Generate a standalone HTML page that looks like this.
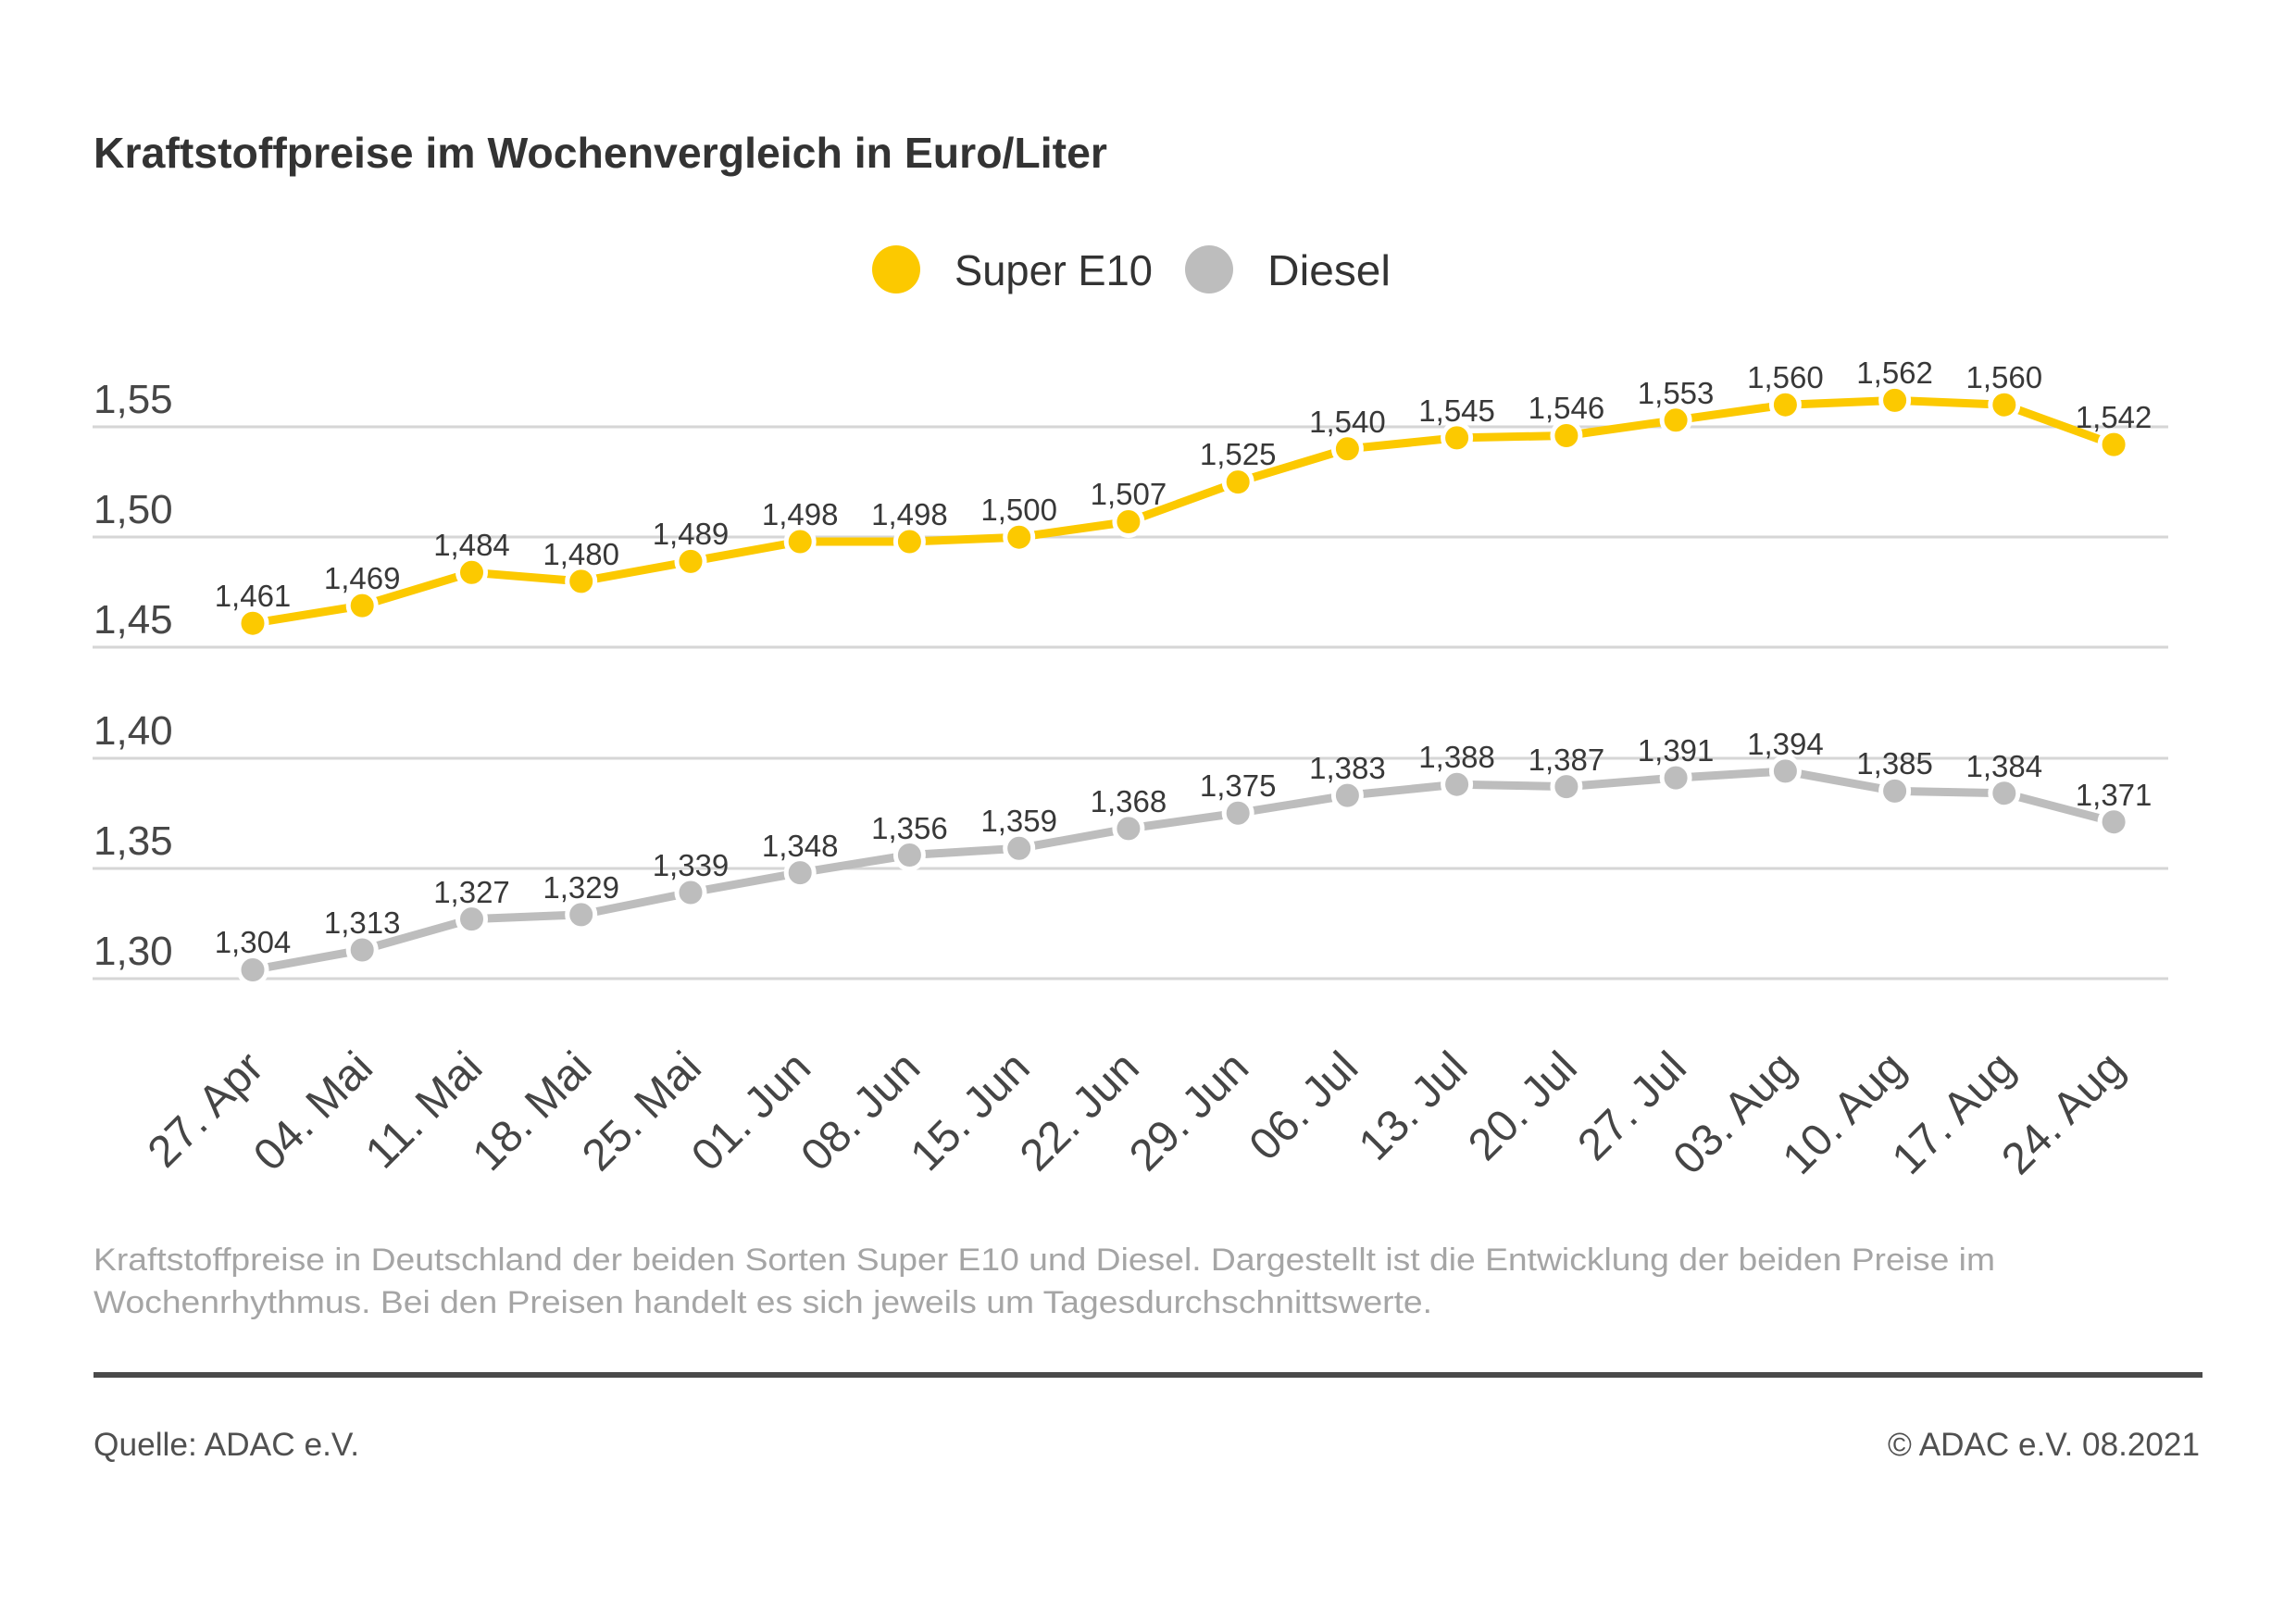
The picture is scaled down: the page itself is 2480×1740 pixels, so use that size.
<!DOCTYPE html>
<html>
<head>
<meta charset="utf-8">
<style>
html,body{margin:0;padding:0;background:#fff;}
svg{display:block;}
text{font-family:"Liberation Sans",sans-serif;}
</style>
</head>
<body>
<svg width="2480" height="1740" viewBox="0 0 2480 1740" xmlns="http://www.w3.org/2000/svg">
<rect width="2480" height="1740" fill="#fff"/>

<!-- Title -->
<text x="101" y="181" font-size="46" font-weight="bold" fill="#333" textLength="1095" lengthAdjust="spacingAndGlyphs">Kraftstoffpreise im Wochenvergleich in Euro/Liter</text>

<!-- Legend -->
<circle cx="968" cy="291" r="26" fill="#fcc900"/>
<text x="1031" y="308" font-size="46" fill="#333" textLength="214" lengthAdjust="spacingAndGlyphs">Super E10</text>
<circle cx="1306" cy="291" r="26" fill="#bdbdbd"/>
<text x="1369" y="308" font-size="46" fill="#333" textLength="133" lengthAdjust="spacingAndGlyphs">Diesel</text>

<!-- Grid lines -->
<g stroke="#d6d6d6" stroke-width="3">
<line x1="100" y1="461" x2="2342" y2="461"/>
<line x1="100" y1="580" x2="2342" y2="580"/>
<line x1="100" y1="699" x2="2342" y2="699"/>
<line x1="100" y1="819" x2="2342" y2="819"/>
<line x1="100" y1="938" x2="2342" y2="938"/>
<line x1="100" y1="1057" x2="2342" y2="1057"/>
</g>

<!-- Y labels -->
<g font-size="44" fill="#474747">
<text x="101" y="446">1,55</text>
<text x="101" y="565">1,50</text>
<text x="101" y="684">1,45</text>
<text x="101" y="804">1,40</text>
<text x="101" y="923">1,35</text>
<text x="101" y="1042">1,30</text>
</g>

<!-- E10 line -->
<polyline fill="none" stroke="#fcc900" stroke-width="9" stroke-linejoin="round"
points="273,673.2 391.2,654.1 509.5,618.3 627.7,627.9 746,606.4 864.2,585 982.4,585 1100.7,580.2 1218.9,563.5 1337.2,520.6 1455.4,484.8 1573.6,472.9 1691.9,470.5 1810.1,453.8 1928.4,437.2 2046.6,432.4 2164.8,437.2 2283.1,480.1"/>
<g fill="#fcc900" stroke="#fff" stroke-width="5">
<circle cx="273" cy="673.2" r="15"/>
<circle cx="391.2" cy="654.1" r="15"/>
<circle cx="509.5" cy="618.3" r="15"/>
<circle cx="627.7" cy="627.9" r="15"/>
<circle cx="746" cy="606.4" r="15"/>
<circle cx="864.2" cy="585" r="15"/>
<circle cx="982.4" cy="585" r="15"/>
<circle cx="1100.7" cy="580.2" r="15"/>
<circle cx="1218.9" cy="563.5" r="15"/>
<circle cx="1337.2" cy="520.6" r="15"/>
<circle cx="1455.4" cy="484.8" r="15"/>
<circle cx="1573.6" cy="472.9" r="15"/>
<circle cx="1691.9" cy="470.5" r="15"/>
<circle cx="1810.1" cy="453.8" r="15"/>
<circle cx="1928.4" cy="437.2" r="15"/>
<circle cx="2046.6" cy="432.4" r="15"/>
<circle cx="2164.8" cy="437.2" r="15"/>
<circle cx="2283.1" cy="480.1" r="15"/>
</g>
<g font-size="33" fill="#383838" text-anchor="middle">
<text x="273" y="655">1,461</text>
<text x="391.2" y="636">1,469</text>
<text x="509.5" y="600">1,484</text>
<text x="627.7" y="610">1,480</text>
<text x="746" y="588">1,489</text>
<text x="864.2" y="567">1,498</text>
<text x="982.4" y="567">1,498</text>
<text x="1100.7" y="562">1,500</text>
<text x="1218.9" y="545">1,507</text>
<text x="1337.2" y="502">1,525</text>
<text x="1455.4" y="467">1,540</text>
<text x="1573.6" y="455">1,545</text>
<text x="1691.9" y="452">1,546</text>
<text x="1810.1" y="436">1,553</text>
<text x="1928.4" y="419">1,560</text>
<text x="2046.6" y="414">1,562</text>
<text x="2164.8" y="419">1,560</text>
<text x="2283.1" y="462">1,542</text>
</g>

<!-- Diesel line -->
<polyline fill="none" stroke="#bdbdbd" stroke-width="9" stroke-linejoin="round"
points="273,1047.5 391.2,1026 509.5,992.6 627.7,987.9 746,964 864.2,942.6 982.4,923.5 1100.7,916.3 1218.9,894.9 1337.2,878.2 1455.4,859.1 1573.6,847.2 1691.9,849.6 1810.1,840.1 1928.4,832.9 2046.6,854.4 2164.8,856.7 2283.1,887.7"/>
<g fill="#bdbdbd" stroke="#fff" stroke-width="5">
<circle cx="273" cy="1047.5" r="15"/>
<circle cx="391.2" cy="1026" r="15"/>
<circle cx="509.5" cy="992.6" r="15"/>
<circle cx="627.7" cy="987.9" r="15"/>
<circle cx="746" cy="964" r="15"/>
<circle cx="864.2" cy="942.6" r="15"/>
<circle cx="982.4" cy="923.5" r="15"/>
<circle cx="1100.7" cy="916.3" r="15"/>
<circle cx="1218.9" cy="894.9" r="15"/>
<circle cx="1337.2" cy="878.2" r="15"/>
<circle cx="1455.4" cy="859.1" r="15"/>
<circle cx="1573.6" cy="847.2" r="15"/>
<circle cx="1691.9" cy="849.6" r="15"/>
<circle cx="1810.1" cy="840.1" r="15"/>
<circle cx="1928.4" cy="832.9" r="15"/>
<circle cx="2046.6" cy="854.4" r="15"/>
<circle cx="2164.8" cy="856.7" r="15"/>
<circle cx="2283.1" cy="887.7" r="15"/>
</g>
<g font-size="33" fill="#383838" text-anchor="middle">
<text x="273" y="1029">1,304</text>
<text x="391.2" y="1008">1,313</text>
<text x="509.5" y="975">1,327</text>
<text x="627.7" y="970">1,329</text>
<text x="746" y="946">1,339</text>
<text x="864.2" y="925">1,348</text>
<text x="982.4" y="906">1,356</text>
<text x="1100.7" y="898">1,359</text>
<text x="1218.9" y="877">1,368</text>
<text x="1337.2" y="860">1,375</text>
<text x="1455.4" y="841">1,383</text>
<text x="1573.6" y="829">1,388</text>
<text x="1691.9" y="832">1,387</text>
<text x="1810.1" y="822">1,391</text>
<text x="1928.4" y="815">1,394</text>
<text x="2046.6" y="836">1,385</text>
<text x="2164.8" y="839">1,384</text>
<text x="2283.1" y="870">1,371</text>
</g>

<!-- X labels -->
<g font-size="48" fill="#454545" text-anchor="end">
<text transform="translate(287,1156) rotate(-45)">27. Apr</text>
<text transform="translate(405.2,1156) rotate(-45)">04. Mai</text>
<text transform="translate(523.5,1156) rotate(-45)">11. Mai</text>
<text transform="translate(641.7,1156) rotate(-45)">18. Mai</text>
<text transform="translate(760,1156) rotate(-45)">25. Mai</text>
<text transform="translate(878.2,1156) rotate(-45)">01. Jun</text>
<text transform="translate(996.4,1156) rotate(-45)">08. Jun</text>
<text transform="translate(1114.7,1156) rotate(-45)">15. Jun</text>
<text transform="translate(1232.9,1156) rotate(-45)">22. Jun</text>
<text transform="translate(1351.2,1156) rotate(-45)">29. Jun</text>
<text transform="translate(1469.4,1156) rotate(-45)">06. Jul</text>
<text transform="translate(1587.6,1156) rotate(-45)">13. Jul</text>
<text transform="translate(1705.9,1156) rotate(-45)">20. Jul</text>
<text transform="translate(1824.1,1156) rotate(-45)">27. Jul</text>
<text transform="translate(1942.4,1156) rotate(-45)">03. Aug</text>
<text transform="translate(2060.6,1156) rotate(-45)">10. Aug</text>
<text transform="translate(2178.8,1156) rotate(-45)">17. Aug</text>
<text transform="translate(2297.1,1156) rotate(-45)">24. Aug</text>
</g>

<!-- Description -->
<g font-size="34" fill="#a5a5a5">
<text x="101" y="1372" textLength="2054" lengthAdjust="spacingAndGlyphs">Kraftstoffpreise in Deutschland der beiden Sorten Super E10 und Diesel. Dargestellt ist die Entwicklung der beiden Preise im</text>
<text x="101" y="1418" textLength="1446" lengthAdjust="spacingAndGlyphs">Wochenrhythmus. Bei den Preisen handelt es sich jeweils um Tagesdurchschnittswerte.</text>
</g>

<!-- Footer -->
<rect x="101" y="1482" width="2278" height="6" fill="#4a4a4a"/>
<text x="101" y="1572" font-size="35" fill="#505050" textLength="287" lengthAdjust="spacingAndGlyphs">Quelle: ADAC e.V.</text>
<text x="2376" y="1572" font-size="35" fill="#505050" text-anchor="end" textLength="337" lengthAdjust="spacingAndGlyphs">© ADAC e.V. 08.2021</text>
</svg>
</body>
</html>
